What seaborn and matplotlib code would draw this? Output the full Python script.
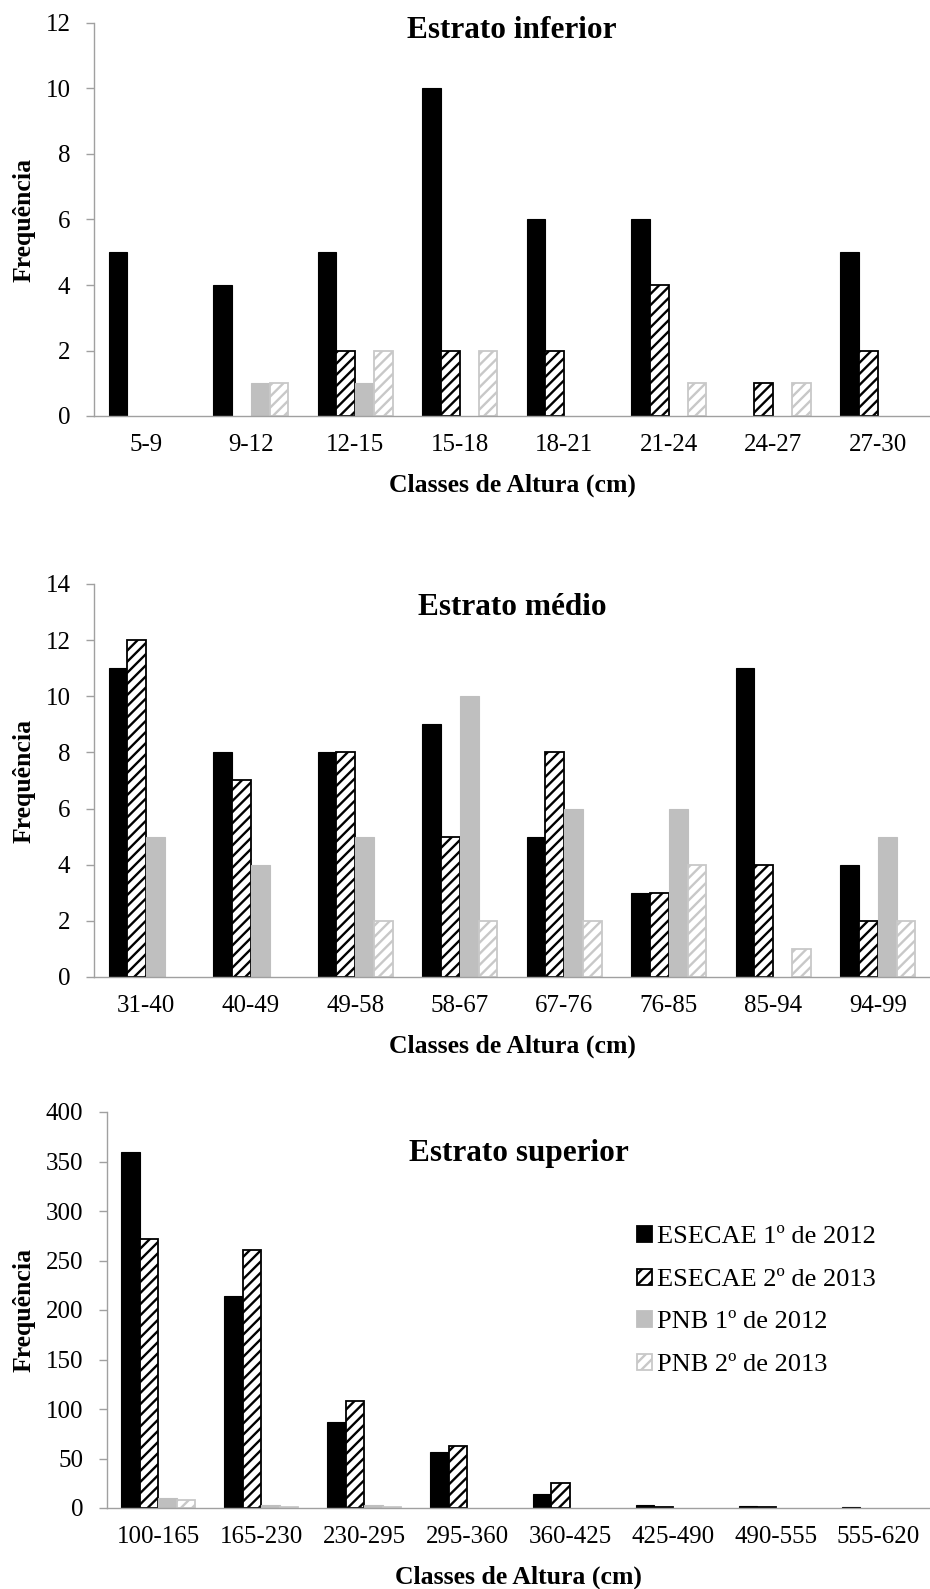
import matplotlib
matplotlib.use("Agg")
import matplotlib.pyplot as plt
import matplotlib.patches as mpatches
import numpy as np
import pandas as pd
import seaborn as sns

# ---- data -------------------------------------------------------------
series = ["ESECAE 1º de 2012", "ESECAE 2º de 2013", "PNB 1º de 2012", "PNB 2º de 2013"]

classes_inf = ["5-9", "9-12", "12-15", "15-18", "18-21", "21-24", "24-27", "27-30"]
esecae1_inf = [5, 4, 5, 10, 6, 6, 0, 5]
esecae2_inf = [0, 0, 2, 2, 2, 4, 1, 2]
pnb1_inf = [0, 1, 1, 0, 0, 0, 0, 0]
pnb2_inf = [0, 1, 2, 2, 0, 1, 1, 0]

classes_med = ["31-40", "40-49", "49-58", "58-67", "67-76", "76-85", "85-94", "94-99"]
esecae1_med = [11, 8, 8, 9, 5, 3, 11, 4]
esecae2_med = [12, 7, 8, 5, 8, 3, 4, 2]
pnb1_med = [5, 4, 5, 10, 6, 6, 0, 5]
pnb2_med = [0, 0, 2, 2, 2, 4, 1, 2]

classes_sup = ["100-165", "165-230", "230-295", "295-360", "360-425", "425-490", "490-555", "555-620"]
esecae1_sup = [360, 214, 87, 57, 14, 3, 2, 1]
esecae2_sup = [272, 261, 108, 63, 25, 1, 1, 0]
pnb1_sup = [10, 3, 3, 0, 0, 0, 0, 0]
pnb2_sup = [8, 1, 1, 0, 0, 0, 0, 0]

# ---- style ------------------------------------------------------------
sns.set_theme(style="white")
plt.rcParams["font.family"] = ["Liberation Serif", "DejaVu Serif"]
plt.rcParams["hatch.linewidth"] = 1.7
plt.rcParams["text.color"] = "black"

W, H = 930, 1589
fig = plt.figure(figsize=(W / 100, H / 100), dpi=100)

fills = ["black", "white", "#bfbfbf", "white"]
edges = ["black", "black", "#bfbfbf", "#c8c8c8"]
hatches = [None, "///", None, "///"]
spine_col = "#a0a0a0"
TICK_FS = 18
LAB_FS = 18.5


def long_frame(classes, cols):
    rows = []
    for name, vals in zip(series, cols):
        for c, v in zip(classes, vals):
            rows.append({"classe": c, "serie": name, "freq": v})
    return pd.DataFrame(rows)


def panel(rect_px, classes, cols, ymax, ystep, title, title_y):
    left, top, right, bottom = rect_px
    ax = fig.add_axes([left / W, 1 - bottom / H, (right - left) / W, (bottom - top) / H])
    df = long_frame(classes, cols)
    sns.barplot(data=df, x="classe", y="freq", hue="serie", hue_order=series,
                order=classes, palette=fills, saturation=1, width=0.72,
                errorbar=None, legend=False, ax=ax)
    for k, cont in enumerate(ax.containers):
        for bar in cont:
            bar.set_facecolor(fills[k])
            bar.set_edgecolor(edges[k])
            bar.set_linewidth(1.3 if k in (1, 3) else 0.8)
            if hatches[k]:
                bar.set_hatch(hatches[k])
            if bar.get_height() == 0:
                bar.set_visible(False)
    ax.set_xlim(-0.5, len(classes) - 0.5)
    ax.set_ylim(0, ymax)
    ax.set_yticks(np.arange(0, ymax + ystep / 2, ystep))
    ax.set_xticks(range(len(classes)))
    ax.set_xticks(np.arange(-0.5, len(classes), 1.0), minor=True)
    ax.tick_params(axis="x", which="major", length=0, pad=13, labelsize=TICK_FS, labelcolor="black")
    ax.tick_params(axis="x", which="minor", length=6, width=1.0, color=spine_col, direction="out")
    ax.tick_params(axis="y", which="major", length=6, width=1.0, color=spine_col, direction="out",
                   pad=11, labelsize=TICK_FS, labelcolor="black", left=True)
    for s in ("top", "right"):
        ax.spines[s].set_visible(False)
    for s in ("left", "bottom"):
        ax.spines[s].set_color(spine_col)
        ax.spines[s].set_linewidth(1.0)
    ax.set_xlabel("")
    ax.set_ylabel("")
    cx = (left + right) / 2
    fig.text(cx / W, 1 - title_y / H, title, ha="center", va="center",
             fontsize=22.5, fontweight="bold")
    fig.text(cx / W, 1 - (bottom + 69) / H, "Classes de Altura (cm)", ha="center",
             va="center", fontsize=LAB_FS, fontweight="bold")
    fig.text(24 / W, 1 - ((top + bottom) / 2) / H, "Frequência", ha="center", va="center",
             rotation=90, fontsize=LAB_FS, fontweight="bold")
    return ax


panel((94, 23, 930, 416), classes_inf, [esecae1_inf, esecae2_inf, pnb1_inf, pnb2_inf],
      12, 2, "Estrato inferior", 30)
panel((94, 584, 930, 977), classes_med, [esecae1_med, esecae2_med, pnb1_med, pnb2_med],
      14, 2, "Estrato médio", 608)
ax3 = panel((107, 1112, 930, 1508), classes_sup, [esecae1_sup, esecae2_sup, pnb1_sup, pnb2_sup],
            400, 50, "Estrato superior", 1153)

handles = [mpatches.Patch(facecolor=fills[k], edgecolor=edges[k], hatch=hatches[k],
                          linewidth=1.3) for k in range(4)]
fig.legend(handles, series, loc="upper left", bbox_to_anchor=(637 / W, 1 - 1226 / H),
           frameon=False, fontsize=19, handlelength=0.55, handleheight=0.55,
           handletextpad=0.2, labelspacing=0.77, borderpad=0, borderaxespad=0)

fig.savefig("out.png", dpi=100)
